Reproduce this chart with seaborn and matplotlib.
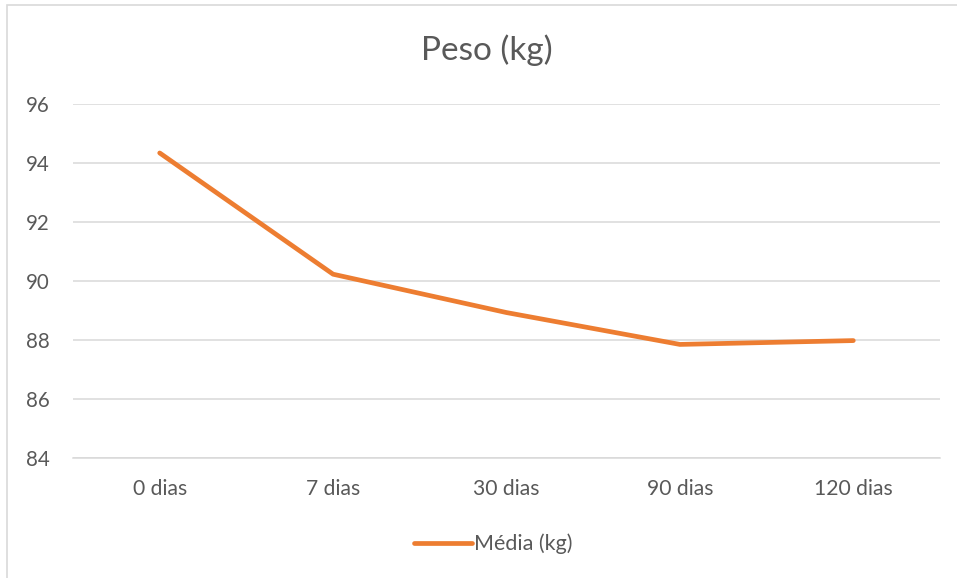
import matplotlib
matplotlib.use("Agg")
import matplotlib.pyplot as plt
import seaborn as sns
import pandas as pd
from matplotlib.patches import Rectangle

# Weight follow-up data
periodos = ["0 dias", "7 dias", "30 dias", "90 dias", "120 dias"]
media_kg = [94.34, 90.23, 88.93, 87.85, 87.98]
serie = "Média (kg)"
titulo = "Peso (kg)"
y_ticks = [84, 86, 88, 90, 92, 94, 96]

sns.set_theme(style="white")
plt.rcParams["font.family"] = ["Lato", "DejaVu Sans"]

W, H = 957, 578
fig = plt.figure(figsize=(W / 100, H / 100), dpi=100)
ax = fig.add_axes([73 / W, 1 - 458 / H, (940 - 73) / W, (458 - 104) / H])

df = pd.DataFrame({"Período": periodos, serie: media_kg})
sns.lineplot(data=df, x="Período", y=serie, ax=ax, color="#ED7D31",
             linewidth=3.4, solid_capstyle="round", solid_joinstyle="round",
             label=serie, sort=False)

text_color = "#595959"
grid_color = "#D9D9D9"

ax.set_ylim(84, 96)
ax.set_xlim(-0.5, len(periodos) - 0.5)
ax.set_yticks(y_ticks)
ax.set_yticklabels([str(t) for t in y_ticks])
ax.yaxis.grid(True, color=grid_color, linewidth=1.1)
ax.set_axisbelow(True)
for side in ["top", "right", "left"]:
    ax.spines[side].set_visible(False)
ax.spines["bottom"].set_color(grid_color)
ax.spines["bottom"].set_linewidth(1.1)
ax.tick_params(axis="x", length=0, labelsize=15.2, colors=text_color, pad=15)
ax.tick_params(axis="y", length=0, labelsize=14.8, colors=text_color, pad=17)
ax.set_xlabel("")
ax.set_ylabel("")

fig.text(487 / W, 1 - 50 / H, titulo, ha="center", va="center",
         fontsize=24, color=text_color)

leg = ax.legend(loc="center", bbox_to_anchor=(493 / W, 1 - 544 / H),
                bbox_transform=fig.transFigure, frameon=False,
                fontsize=15.5, handlelength=2.7, handletextpad=0.1,
                labelcolor=text_color)

# outer chart frame
fig.patches.append(Rectangle((7 / W, -0.01), 1.0, 1 - 5 / H + 0.01,
                             transform=fig.transFigure, fill=False,
                             edgecolor="#D9D9D9", linewidth=1.2))

fig.savefig("out.png", dpi=100, facecolor="white")
